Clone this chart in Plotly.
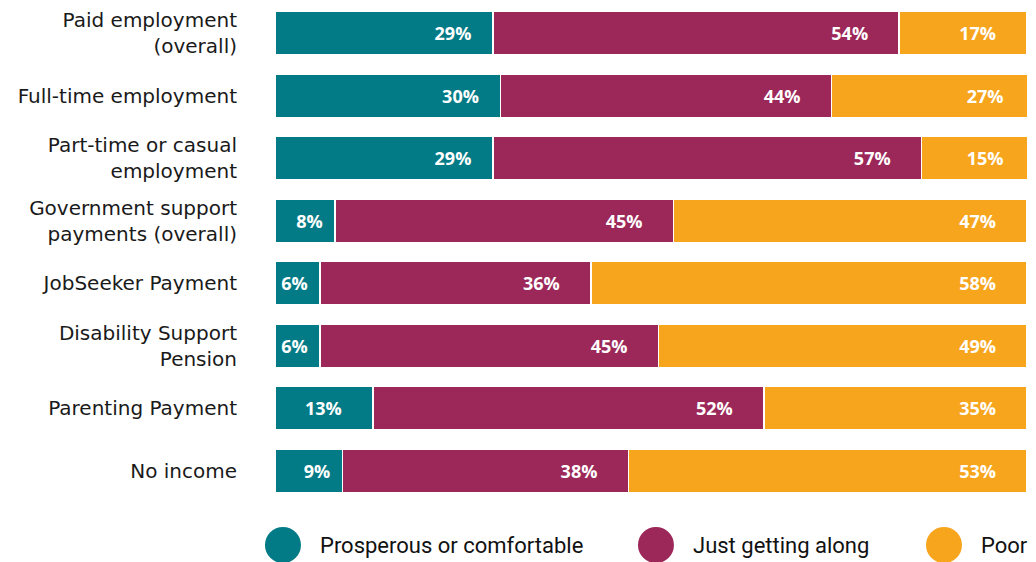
import plotly.graph_objects as go

categories = [
    "Paid employment<br>(overall)",
    "Full-time employment",
    "Part-time or casual<br>employment",
    "Government support<br>payments (overall)",
    "JobSeeker Payment",
    "Disability Support<br>Pension",
    "Parenting Payment",
    "No income",
]
series_names = ["Prosperous or comfortable", "Just getting along", "Poor"]
prosperous = [29, 30, 29, 8, 6, 6, 13, 9]
getting_along = [54, 44, 57, 45, 36, 45, 52, 38]
poor = [17, 27, 15, 47, 58, 49, 35, 53]

colors = ["#037B86", "#9C2759", "#F8A51E"]
values = [prosperous, getting_along, poor]
wide_pad = [4, 6, 6]  # non-breaking spaces after label on wide segments
NB = "\u00a0"


def label(v, pad):
    if v < 10:
        return f"{v}%" + NB * 2
    if v < 20:
        return f"{v}%" + NB * 6
    return f"{v}%" + NB * pad


fig = go.Figure()
for name, vals, col, pad in zip(series_names, values, colors, wide_pad):
    fig.add_trace(go.Bar(
        name=name,
        y=categories,
        x=vals,
        orientation="h",
        marker=dict(color=col, line=dict(color="white", width=1.5)),
        text=[label(v, pad) for v in vals],
        textposition="inside",
        insidetextanchor="end",
        textangle=0,
        constraintext="none",
        textfont=dict(family="Open Sans", size=18, color="white", weight="bold"),
        hoverinfo="skip",
        showlegend=False,
    ))

# custom legend (large circles)
legend_circle_x = [0.0106, 0.5066, 0.8896]
legend_text_x = [0.0572, 0.5533, 0.9362]
legend_y = -0.086
shapes = []
annotations = []
for name, col, cx, tx in zip(series_names, colors, legend_circle_x, legend_text_x):
    shapes.append(dict(
        type="circle", xref="paper", yref="paper",
        xsizemode="pixel", ysizemode="pixel",
        xanchor=cx, yanchor=legend_y,
        x0=-18, x1=18, y0=-18, y1=18,
        fillcolor=col, line=dict(width=0),
    ))
    annotations.append(dict(
        text=name, xref="paper", yref="paper", x=tx, y=legend_y,
        xanchor="left", yanchor="middle", showarrow=False,
        font=dict(family="Roboto", size=22, color="#111111"),
    ))

fig.update_layout(
    barmode="stack",
    bargap=0.31,
    width=1036,
    height=562,
    margin=dict(l=275, r=9, t=2, b=60),
    plot_bgcolor="white",
    paper_bgcolor="white",
    shapes=shapes,
    annotations=annotations,
    xaxis=dict(range=[0, 100], visible=False, fixedrange=True),
    yaxis=dict(
        autorange="reversed",
        showgrid=False,
        zeroline=False,
        showline=False,
        ticks="",
        ticklabelstandoff=37,
        tickfont=dict(family="DejaVu Sans", size=20, color="#1a1a1a"),
    ),
    uniformtext=dict(mode=False),
)

fig.write_html("out.html")
